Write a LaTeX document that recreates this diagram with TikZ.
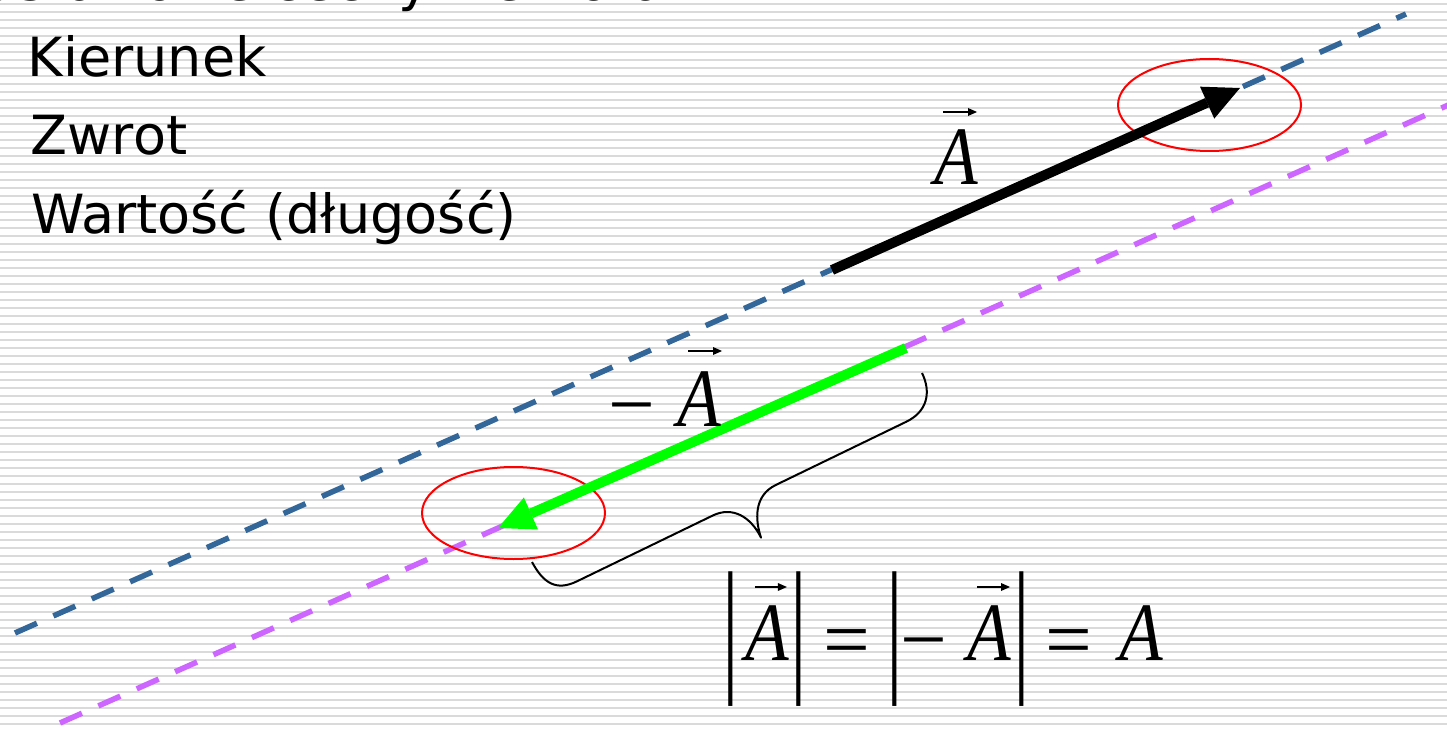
\documentclass[tikz,border=0pt]{standalone}
\usepackage{fontspec}
\usepackage{graphicx}
\setmainfont{DejaVu Sans}
\newfontfamily\tnr{Liberation Serif}
\newfontfamily\tnrA{Liberation Serif}[FakeStretch=0.86]
\usetikzlibrary{arrows.meta,shapes.geometric}
\definecolor{stripe}{RGB}{218,218,218}
\definecolor{blueline}{RGB}{51,102,153}
\definecolor{purpleline}{RGB}{204,102,255}
\definecolor{greenarrow}{RGB}{0,255,0}
\newcommand{\tallbar}{\scalebox{1}[1.784]{|}}
\begin{document}
\begin{tikzpicture}[x=1pt,y=-1pt,
  stripeline/.style={draw=stripe,line width=2pt},
  axisline/.style={line width=5.5pt,dash pattern=on 24pt off 18pt},
  bigarrow/.style={line width=10pt,-{Triangle[length=36pt,width=35pt,line width=0pt]}},
  marker/.style={draw=red,line width=2pt,ellipse,inner sep=0pt,minimum width=183pt,minimum height=92pt},
  itemtext/.style={font=\fontsize{54}{64}\selectfont,inner sep=0pt,anchor=base west},
  mathA/.style={font=\tnrA\itshape\fontsize{83}{83}\selectfont,inner sep=0pt,anchor=base},
  mathsym/.style={font=\tnr\fontsize{83}{83}\selectfont,inner sep=0pt,anchor=base},
  barsym/.style={font=\tnr\fontsize{83}{83}\selectfont,inner sep=0pt,anchor=center},
  vecarr/.style={line width=2pt,-{Triangle[length=9pt,width=8pt,line width=0pt]}},
  bracestyle/.style={line width=2pt,line join=round}
]
\useasboundingbox (0,0) rectangle (1447,730);
\clip (0,0) rectangle (1447,730);
\fill[white] (0,0) rectangle (1447,730);
\foreach \k in {0,...,90} {\draw[stripeline] (0,{4+8*\k}) -- (1447,{4+8*\k});}

% title (cut by the top edge)
\node[font=\fontsize{54}{64}\selectfont,inner sep=0pt,anchor=base west] (title) at (-81,1) {Podstawowe cechy wektora:};
\node[itemtext] (k1) at (27.7,77) {Kierunek};
\node[itemtext] (k2) at (30.6,155) {Zwrot};
\node[itemtext] (k3) at (31,233) {Wartość (długość)};

% dashed lines
\coordinate (b0) at (15,633);
\coordinate (b1) at (1406,14);
\coordinate (p0) at (60,723);
\coordinate (p1) at (1500,82);
\draw[axisline,draw=blueline] (b0) -- (b1);
\draw[axisline,draw=purpleline] (p0) -- (p1);

% red markers
\node[marker] (m1) at (1209.5,105) {};
\node[marker] (m2) at (513.5,513) {};

% vectors
\coordinate (a0) at (832,270);
\coordinate (a1) at (1240,88);
\draw[bigarrow,draw=black,fill=black] (a0) -- (a1);
\coordinate (g0) at (906,348);
\coordinate (g1) at (498,528);
\draw[bigarrow,draw=greenarrow,fill=greenarrow] (g0) -- (g1);

% brace
\begin{scope}[shift={(532,562)},x={(0.8999pt,0.4361pt)},y={(0.4361pt,-0.8999pt)}]
\coordinate (bs) at (0,0);
\coordinate (be) at (433.4,0);
\draw[bracestyle] (bs) .. controls (1,24) and (9,37) .. (32,37) -- (183,37)
  .. controls (205,37) and (216.7,55) .. (216.7,78)
  .. controls (219,60) and (228,37) .. (253,37) -- (398,37)
  .. controls (421,37) and (433.4,22) .. (be);
\end{scope}

% labels
\node[mathA] (A0) at (956,185) {A};
\draw[vecarr] ([shift={(-13,-73)}]A0.base) -- ([shift={(21,-73)}]A0.base);
\node[mathsym] (mn) at (632,432) {−};
\node[mathA] (Am) at (699.5,426) {A};
\draw[vecarr] ([shift={(-11.5,-75)}]Am.base) -- ([shift={(22.5,-75)}]Am.base);

% formula
\node[barsym] (v1) at (731,639.5) {\tallbar};
\node[mathA] (F1) at (766.9,660) {A};
\draw[vecarr] ([shift={(-12,-73)}]F1.base) -- ([shift={(20,-73)}]F1.base);
\node[barsym] (v2) at (799,639.5) {\tallbar};
\node[mathsym] (e1) at (847,667) {=};
\node[barsym] (v3) at (895,639.5) {\tallbar};
\node[mathsym] (mn2) at (924,667) {−};
\node[mathA] (F2) at (989,660) {A};
\draw[vecarr] ([shift={(-12,-73)}]F2.base) -- ([shift={(21,-73)}]F2.base);
\node[barsym] (v4) at (1022,639.5) {\tallbar};
\node[mathsym] (e2) at (1069,667) {=};
\node[mathA] (F3) at (1141,660) {A};
\end{tikzpicture}
\end{document}
